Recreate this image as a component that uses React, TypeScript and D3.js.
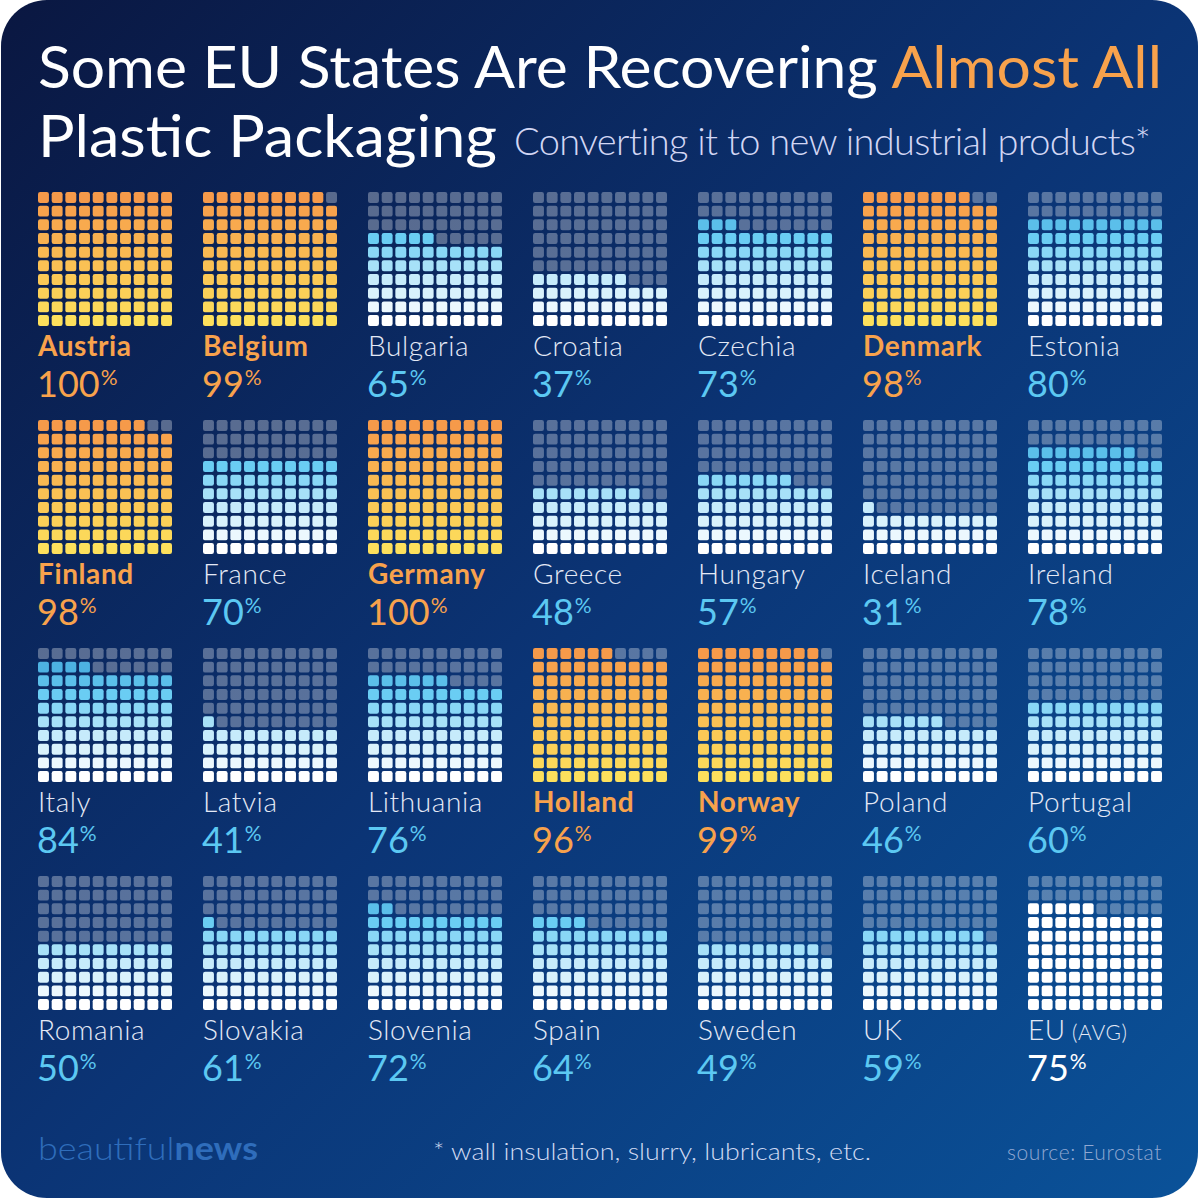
import React from 'react'
import * as d3 from 'd3'

const countries = [
  'Austria', 'Belgium', 'Bulgaria', 'Croatia', 'Czechia', 'Denmark', 'Estonia',
  'Finland', 'France', 'Germany', 'Greece', 'Hungary', 'Iceland', 'Ireland',
  'Italy', 'Latvia', 'Lithuania', 'Holland', 'Norway', 'Poland', 'Portugal',
  'Romania', 'Slovakia', 'Slovenia', 'Spain', 'Sweden', 'UK', 'EU'
]
const recovered = [
  100, 99, 65, 37, 73, 98, 80,
  98, 70, 100, 48, 57, 31, 78,
  84, 41, 76, 96, 99, 46, 60,
  50, 61, 72, 64, 49, 59, 75
]
const highlighted = ['Austria', 'Belgium', 'Denmark', 'Finland', 'Germany', 'Holland', 'Norway']

const W = 1200
const H = 1199
const font = 'Lato, "Open Sans", sans-serif'

const colX = d3.scaleLinear().domain([0, 1]).range([38, 203])
const rowY = d3.scaleLinear().domain([0, 1]).range([192, 420])
const cell = d3.scaleBand<number>().domain(d3.range(10)).range([0, 134]).paddingInner(0.2)

const blue = d3.scaleLinear<string>().domain([0, 3, 6, 9]).range(['#ffffff', '#c6ebfb', '#6acdf3', '#3ea4d9'])
const orange = d3.scaleLinear<string>().domain([0, 9]).range(['#fde05c', '#f69a4a'])

function Waffle({ name, value, i }: { name: string; value: number; i: number }) {
  const x = colX(i % 7)
  const y = rowY(Math.floor(i / 7))
  const hot = highlighted.includes(name)
  const isEU = name === 'EU'
  const cells = d3.range(100)
  const accent = hot ? '#f8a24c' : isEU ? '#ffffff' : '#5cc8f2'
  return (
    <g transform={`translate(${x},${y})`}>
      {cells.map(k => {
        const r = Math.floor(k / 10)
        const c = k % 10
        const on = k < value
        const fill = !on ? '#ffffff' : isEU ? '#ffffff' : hot ? orange(r) : blue(r)
        return (
          <rect key={k} x={cell(c)} y={cell(9 - r)} width={cell.bandwidth()} height={cell.bandwidth()}
            rx={2.2} fill={fill} fillOpacity={on ? 1 : 0.32} />
        )
      })}
      <text x={0} y={164} fontFamily={font} fontSize={28} fontWeight={hot ? 700 : 300}
        fill={hot ? '#f8a24c' : '#e4e9f6'} letterSpacing={0.6}>
        {name}
        {isEU && <tspan fontSize={21}> (AVG)</tspan>}
      </text>
      <text x={-1} y={205} fontFamily={font} fontSize={36} fontWeight={400} fill={accent}>
        {value}
        <tspan fontSize={21} dy={-12} dx={1}>%</tspan>
      </text>
    </g>
  )
}

export default function App() {
  return (
    <svg width={W} height={H} style={{ position: 'absolute', left: 0, top: 0, display: 'block' }}>
      <defs>
        <linearGradient id="bg" x1="0" y1="0" x2="1" y2="1">
          <stop offset="0" stopColor="#0a1741" />
          <stop offset="0.5" stopColor="#0b3475" />
          <stop offset="1" stopColor="#0a5299" />
        </linearGradient>
      </defs>
      <rect x={0} y={0} width={W} height={H} fill="#ffffff" />
      <rect x={1} y={0} width={W - 3} height={H - 1} rx={46} fill="url(#bg)" />

      <text x={38} y={88} fontFamily={font} fontSize={58} fontWeight={400} fill="#ffffff"
        textLength={1124} lengthAdjust="spacingAndGlyphs">
        Some EU States Are Recovering <tspan fill="#f8a24c">Almost All</tspan>
      </text>
      <text x={38} y={157} fontFamily={font} fontSize={58} fontWeight={400} fill="#ffffff"
        textLength={459} lengthAdjust="spacingAndGlyphs">
        Plastic Packaging
      </text>
      <text x={514} y={155} fontFamily={font} fontSize={38} fontWeight={300} fill="#d2d6f4"
        letterSpacing={-0.7}>
        Converting it to new industrial products*
      </text>

      {countries.map((c, i) => (
        <Waffle key={c} name={c} value={recovered[i]} i={i} />
      ))}

      <text x={38} y={1160} fontFamily={font} fontSize={32} fill="#2f6dbb"
        textLength={220} lengthAdjust="spacingAndGlyphs">
        <tspan fontWeight={300}>beautiful</tspan><tspan fontWeight={700}>news</tspan>
      </text>
      <text x={433} y={1160} fontFamily={font} fontSize={24} fontWeight={300} fill="#d0daf2"
        textLength={438} lengthAdjust="spacingAndGlyphs">
        * wall insulation, slurry, lubricants, etc.
      </text>
      <text x={1162} y={1160} fontFamily={font} fontSize={21} fontWeight={300} fill="#90a8d2"
        textAnchor="end" letterSpacing={0.6}>
        source: Eurostat
      </text>
    </svg>
  )
}
